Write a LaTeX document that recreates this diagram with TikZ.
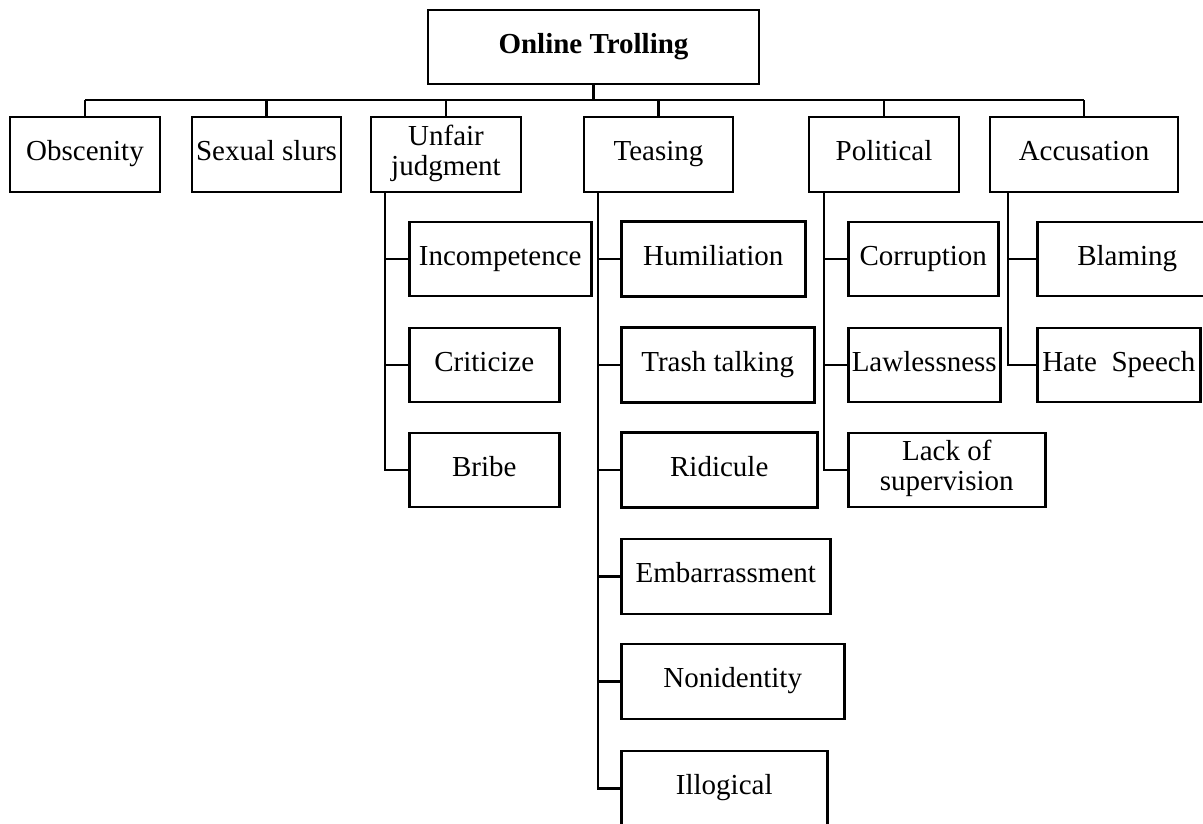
\documentclass[tikz,border=0pt]{standalone}
\usepackage{fontspec}
\setmainfont{Liberation Serif}
\usetikzlibrary{positioning, calc}

\begin{document}
\begin{tikzpicture}[x=1pt, y=-1pt, line width=2.5pt,
    box/.style={draw, line width=2.5pt, inner sep=0pt, minimum height=74pt,
        execute at begin node=\strut, execute at end node=\strut,
        align=center, font=\fontsize{29}{30}\selectfont},
    link/.style={draw, line width=2.5pt}]
    \useasboundingbox (0,0) rectangle (1203,823);

    % Root
    \node[box, minimum width=331pt] (root) at (593.5,47) {\textbf{Online Trolling}};

    % First level
    \foreach \name/\cx/\ww/\txt in {obsc/85/150/Obscenity, slurs/266.5/149/Sexual slurs,
        unfair/446/150/{Unfair\\judgment}, teasing/658.5/149/Teasing,
        political/884/150/Political, accusation/1084/188/Accusation} {
        \node[box, minimum width=\ww pt, minimum height=75pt] (\name) at (\cx,154.5) {\txt};
    }

    % Bus from root to first level
    \coordinate (bus) at (0,100);
    \draw[link] (root.south) -- (root.south |- bus);
    \draw[link] (obsc.north |- bus) -- (accusation.north |- bus);
    \foreach \name in {obsc, slurs, unfair, teasing, political, accusation} {
        \draw[link] (\name.north) -- (\name.north |- bus);
    }

    % Second level: Unfair judgment
    \foreach \name/\cy/\ww/\txt in {incomp/259/182/Incompetence, critic/365/150/Criticize,
        bribe/470/150/Bribe} {
        \node[box, anchor=west, minimum width=\ww pt] (\name) at (408,\cy) {\txt};
    }

    % Second level: Teasing
    \foreach \name/\cy/\ww/\txt in {humil/259/184/Humiliation, trash/365/193/Trash talking,
        ridic/470/196/Ridicule, embar/576.5/209/Embarrassment,
        nonid/681.5/223/Nonidentity, illog/788.5/206/Illogical} {
        \node[box, anchor=west, minimum width=\ww pt, minimum height=75pt] (\name) at (620,\cy) {\txt};
    }

    % Second level: Political
    \foreach \name/\cy/\ww/\txt in {corrup/259/150/Corruption, lawless/365/152/Lawlessness,
        lack/470/197/{Lack of\\supervision}} {
        \node[box, anchor=west, minimum width=\ww pt] (\name) at (847,\cy) {\txt};
    }

    % Second level: Accusation
    \foreach \name/\cy/\ww/\txt in {blame/259/180/Blaming, hate/365/163/Hate\ \ Speech} {
        \node[box, anchor=west, minimum width=\ww pt] (\name) at (1036,\cy) {\txt};
    }

    % Spines
    \coordinate (usp) at ([xshift=15pt]unfair.south west);
    \coordinate (tsp) at ([xshift=15pt]teasing.south west);
    \coordinate (psp) at ([xshift=16pt]political.south west);
    \coordinate (asp) at ([xshift=19pt]accusation.south west);

    \foreach \c in {incomp, critic, bribe} \draw[link] (usp) |- (\c.west);
    \foreach \c in {humil, trash, ridic, embar, nonid, illog} \draw[link] (tsp) |- (\c.west);
    \foreach \c in {corrup, lawless, lack} \draw[link] (psp) |- (\c.west);
    \foreach \c in {blame, hate} \draw[link] (asp) |- (\c.west);
\end{tikzpicture}
\end{document}
